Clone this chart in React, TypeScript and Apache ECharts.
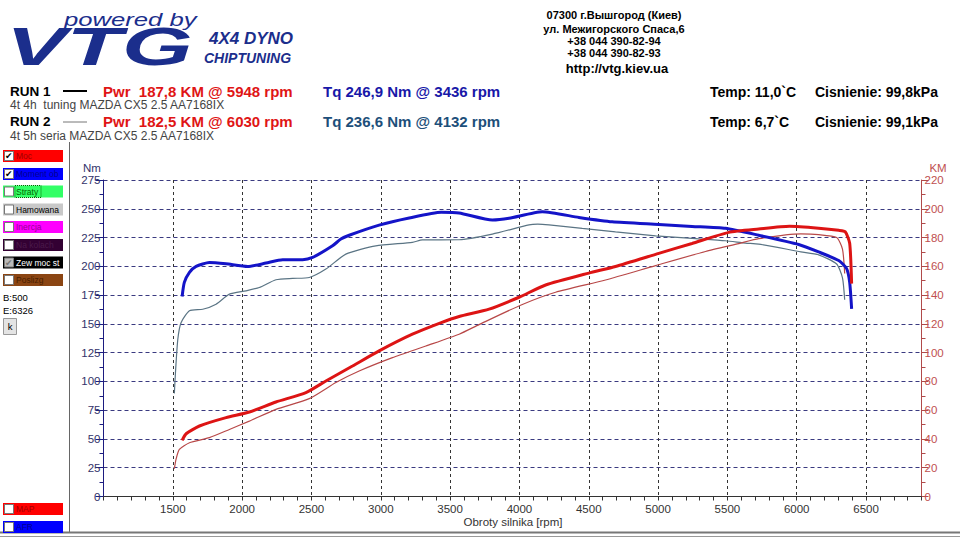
import React, { useEffect, useRef } from "react";
import * as echarts from "echarts";

// ---------- DATA ----------
const run1TorqueRpm = [1567, 1583, 1620, 1668, 1764, 1884, 2040, 2172, 2292, 2436, 2508, 2652, 2712, 2772, 2988, 3205, 3436, 3565, 3805, 3925, 4165, 4429, 4669, 5005, 5245, 5486, 5726, 6014, 6158, 6303, 6360, 6382, 6396];
const run1Torque = [173.8, 186, 194.7, 199.9, 203.4, 202.2, 199.9, 202.8, 205.7, 205.7, 207.7, 217.8, 223.7, 227, 235.8, 242, 246.9, 246.3, 240.2, 241.7, 247.4, 242.5, 238.7, 236.4, 234.7, 233, 227, 219, 212.5, 205, 198, 186, 163];

const run1PowerRpm = [1567, 1596, 1692, 1884, 2052, 2244, 2460, 2604, 2796, 2988, 3228, 3436, 3565, 3781, 3997, 4189, 4501, 4693, 5005, 5245, 5510, 5726, 5948, 6158, 6303, 6350, 6382, 6396];
const run1Power = [39, 43.6, 49, 54.8, 58.7, 65.7, 72.2, 80.3, 90.7, 101.2, 112.8, 120.9, 125.1, 130.2, 138.5, 147, 155.3, 159.9, 169, 175.9, 183.6, 185.9, 187.8, 186.5, 185, 184, 176, 148];

const run2TorqueRpm = [1511, 1519, 1536, 1560, 1620, 1716, 1812, 1908, 2028, 2124, 2244, 2364, 2484, 2604, 2748, 2964, 3228, 3300, 3565, 3805, 4069, 4132, 4213, 4453, 4693, 4982, 5245, 5486, 5630, 5726, 6030, 6158, 6288, 6330, 6346];
const run2Torque = [89.6, 107.6, 136.6, 151.2, 161.3, 162.7, 167.1, 175.8, 178.7, 181.6, 188.3, 189.5, 190.3, 197.6, 210.6, 217.8, 220.8, 223, 223.1, 228, 236, 236.6, 236, 233, 230, 226.5, 224.2, 222.2, 220.2, 219.3, 212.6, 210, 202, 190, 171];

const run2PowerRpm = [1511, 1523, 1547, 1620, 1764, 1908, 2052, 2244, 2484, 2676, 2844, 3084, 3325, 3565, 3709, 4021, 4261, 4621, 4982, 5342, 5582, 5726, 6030, 6158, 6288, 6330, 6346];
const run2Power = [19.3, 25.8, 32.7, 37.4, 40.9, 46.6, 52.4, 60.6, 68, 79.2, 87.2, 96.5, 104.6, 112.8, 119.5, 133.5, 142, 150.5, 160.5, 170.3, 175.8, 179.2, 182.5, 182, 180, 172, 155];

const xMin = 1000;
const xMax = 6900;
const nmMax = 275;
const kmMax = 220;

const addressLines = ["07300 г.Вышгород (Киев)", "ул. Межигорского Спаса,6", "+38 044 390-82-94", "+38 044 390-82-93"];
const siteUrl = "http://vtg.kiev.ua";

const runLabels = ["RUN 1", "RUN 2"];
const runDescriptions = ["4t 4h  tuning MAZDA CX5 2.5 AA7168IX", "4t 5h seria MAZDA CX5 2.5 AA7168IX"];
const runPowerTexts = ["Pwr  187,8 KM @ 5948 rpm", "Pwr  182,5 KM @ 6030 rpm"];
const runTorqueTexts = ["Tq 246,9 Nm @ 3436 rpm", "Tq 236,6 Nm @ 4132 rpm"];
const runTempTexts = ["Temp: 11,0`C", "Temp: 6,7`C"];
const runPressureTexts = ["Cisnienie: 99,8kPa", "Cisnienie: 99,1kPa"];

const panelLabels = ["Moc", "Moment obr", "Straty", "Hamowana", "Inercja", "Na kolach", "Zew moc str", "Poslizg"];
const panelChecked = [true, true, false, false, false, false, true, false];
const bottomPanelLabels = ["MAP", "AFR"];
const rangeTexts = ["B:500", "E:6326"];

// ---------- STYLES ----------
const FONT = '"Liberation Sans", Arial, sans-serif';
const panelBg = ["#ff0000", "#0000ff", "#33ff66", "#c8c8c8", "#ff00ff", "#330033", "#000000", "#8b4513"];
const panelFg = ["#a00000", "#000090", "#006600", "#000000", "#990099", "#4a1a4a", "#ffffff", "#4a2000"];
const bottomBg = ["#ff0000", "#0000ff"];
const bottomFg = ["#a00000", "#000090"];
const logoBlue = "#1b2e8c";

function zip(xs: number[], ys: number[]) {
  return xs.map((x, i) => [x, ys[i]]);
}

export default function App() {
  const ref = useRef<HTMLDivElement>(null);

  useEffect(() => {
    if (!ref.current) return;
    const chart = echarts.init(ref.current, null, { renderer: "svg" });

    const graphics: any[] = [];
    const txt = (text: string, x: number, y: number, o: any = {}) =>
      graphics.push({
        type: "text",
        x,
        y,
        scaleX: o.scaleX ?? 1,
        scaleY: o.scaleY ?? 1,
        z: 10,
        style: {
          text,
          fill: o.fill ?? "#000",
          fontSize: o.fontSize ?? 12,
          fontWeight: o.fontWeight ?? "normal",
          fontStyle: o.fontStyle ?? "normal",
          fontFamily: o.fontFamily ?? FONT,
          align: o.align ?? "left",
          verticalAlign: o.verticalAlign ?? "middle",
        },
      });

    // logo
    txt("powered by", 64, 20, { fill: logoBlue, fontSize: 19, fontStyle: "italic", scaleX: 1.35 });
    txt("VTG", 6, 46, { fill: logoBlue, fontSize: 54, fontWeight: "bold", fontStyle: "italic", scaleX: 1.68 });
    txt("4X4 DYNO", 209, 38, { fill: logoBlue, fontSize: 17, fontWeight: "bold", fontStyle: "italic" });
    txt("CHIPTUNING", 204, 58, { fill: logoBlue, fontSize: 14, fontWeight: "bold", fontStyle: "italic" });

    // address
    const addrY = [15, 29, 41, 53];
    addressLines.forEach((t, i) => txt(t, 614, addrY[i], { fontSize: 11, fontWeight: "bold", align: "center" }));
    txt(siteUrl, 617, 68, { fontSize: 13, fontWeight: "bold", align: "center" });

    // run rows
    const rowY = [91, 121];
    const descY = [105, 136];
    const tqColors = ["#1818a8", "#1d4f7a"];
    runLabels.forEach((t, i) => {
      txt(t, 10, rowY[i], { fontSize: 13.5, fontWeight: "bold" });
      txt(runDescriptions[i], 10, descY[i], { fontSize: 12, fill: "#444" });
      txt(runPowerTexts[i], 103, rowY[i], { fontSize: 15, fontWeight: "bold", fill: "#e01515" });
      txt(runTorqueTexts[i], 323, rowY[i], { fontSize: 15, fontWeight: "bold", fill: tqColors[i] });
      txt(runTempTexts[i], 710, rowY[i] + 1, { fontSize: 14, fontWeight: "bold" });
      txt(runPressureTexts[i], 815, rowY[i] + 1, { fontSize: 14, fontWeight: "bold" });
    });
    graphics.push({ type: "line", shape: { x1: 63, y1: 91, x2: 87, y2: 91 }, style: { stroke: "#000", lineWidth: 2 } });
    graphics.push({ type: "line", shape: { x1: 63, y1: 122, x2: 87, y2: 122 }, style: { stroke: "#777", lineWidth: 1 } });

    // frame
    graphics.push({ type: "line", shape: { x1: 69.5, y1: 142, x2: 69.5, y2: 532 }, style: { stroke: "#666", lineWidth: 1 } });
    graphics.push({ type: "line", shape: { x1: 0, y1: 532.5, x2: 960, y2: 532.5 }, style: { stroke: "#777", lineWidth: 2 } });
    graphics.push({ type: "line", shape: { x1: 0, y1: 536.5, x2: 960, y2: 536.5 }, style: { stroke: "#999", lineWidth: 1 } });

    // left panel buttons
    const btn = (label: string, cy: number, bg: string, fg: string, checked: boolean, grey = false) => {
      graphics.push({ type: "rect", shape: { x: 3, y: cy - 6, width: 60, height: 12 }, style: { fill: bg } });
      graphics.push({ type: "rect", shape: { x: 4.5, y: cy - 4.5, width: 9, height: 9 }, style: { fill: grey ? "#bbb" : "#fff", stroke: "#777", lineWidth: 1 } });
      if (checked) txt("✔", 5, cy, { fontSize: 9, fontFamily: '"DejaVu Sans", sans-serif', fill: grey ? "#777" : "#000" });
      graphics.push({
        type: "text",
        x: 16,
        y: cy,
        z: 10,
        style: {
          text: label,
          fill: fg,
          fontSize: 8.5,
          fontFamily: FONT,
          verticalAlign: "middle",
          width: 46,
          overflow: "truncate",
          ellipsis: "",
        },
      });
    };
    const btnY = [156, 174, 191.5, 209.5, 227, 245, 262.5, 280];
    panelLabels.forEach((l, i) => btn(l, btnY[i], panelBg[i], panelFg[i], panelChecked[i], i === 6));
    graphics.push({ type: "rect", shape: { x: 15, y: 185.5, width: 26, height: 12 }, style: { fill: "none", stroke: "#006600", lineWidth: 1, lineDash: [1, 1] } });
    const bottomY = [509, 527];
    bottomPanelLabels.forEach((l, i) => btn(l, bottomY[i], bottomBg[i], bottomFg[i], false));
    txt(rangeTexts[0], 3, 297, { fontSize: 9.5 });
    txt(rangeTexts[1], 3, 310, { fontSize: 9.5 });
    graphics.push({ type: "rect", shape: { x: 3.5, y: 318.5, width: 13, height: 16 }, style: { fill: "#e4e4e4", stroke: "#999", lineWidth: 1 } });
    txt("k", 10, 326.5, { fontSize: 9.5, align: "center" });

    // axis names
    txt("Nm", 92, 168, { fontSize: 11.5, fill: "#33336a", align: "center" });
    txt("KM", 938, 168, { fontSize: 11.5, fill: "#c05050", align: "center" });
    txt("Obroty silnika [rpm]", 513, 522, { fontSize: 11.5, fill: "#333", align: "center" });

    chart.setOption({
      animation: false,
      backgroundColor: "#fff",
      grid: { left: 103.5, right: 38.5, top: 180, bottom: 43.5, containLabel: false },
      xAxis: [
        {
          type: "value",
          min: xMin,
          max: xMax,
          interval: 500,
          position: "bottom",
          axisLine: { show: true, onZero: false, lineStyle: { color: "#333", width: 1 } },
          axisTick: { show: false },
          axisLabel: {
            showMinLabel: false,
            showMaxLabel: false,
            color: "#333",
            fontSize: 11.5,
            fontFamily: FONT,
            margin: 6,
            formatter: (v: number) => String(v),
          },
          splitLine: { show: true, lineStyle: { color: "#333", type: [3, 3], width: 1 } },
        },
        {
          type: "value",
          min: xMin,
          max: xMax,
          interval: 100,
          position: "bottom",
          axisLine: { show: false, onZero: false },
          axisTick: { show: true, length: 4, lineStyle: { color: "#333" } },
          axisLabel: { show: false },
          splitLine: { show: false },
        },
      ],
      yAxis: [
        {
          type: "value",
          min: 0,
          max: nmMax,
          interval: 25,
          position: "left",
          axisLine: { show: true, lineStyle: { color: "#1c1c80", width: 1 } },
          axisTick: { show: true, length: 8, lineStyle: { color: "#1c1c80" } },
          minorTick: { show: true, splitNumber: 2, length: 4, lineStyle: { color: "#1c1c80" } },
          axisLabel: { color: "#33336a", fontSize: 11.5, fontFamily: FONT, margin: 3 },
          splitLine: { show: true, lineStyle: { color: "#3a3a80", type: [4, 3], width: 1 } },
        },
        {
          type: "value",
          min: 0,
          max: kmMax,
          interval: 20,
          position: "right",
          axisLine: { show: true, lineStyle: { color: "#b04a4a", width: 1 } },
          axisTick: { show: true, length: 7, lineStyle: { color: "#b04a4a" } },
          minorTick: { show: true, splitNumber: 2, length: 4, lineStyle: { color: "#b04a4a" } },
          axisLabel: { color: "#c05050", fontSize: 11.5, fontFamily: FONT, margin: 3 },
          splitLine: { show: false },
        },
      ],
      series: [
        {
          name: "RUN 2 Tq",
          type: "line",
          xAxisIndex: 0,
          yAxisIndex: 0,
          data: zip(run2TorqueRpm, run2Torque),
          showSymbol: false,
          smooth: 0.2,
          lineStyle: { color: "#5a7484", width: 1.2 },
          z: 3,
        },
        {
          name: "RUN 2 Pwr",
          type: "line",
          xAxisIndex: 0,
          yAxisIndex: 1,
          data: zip(run2PowerRpm, run2Power),
          showSymbol: false,
          smooth: 0.2,
          lineStyle: { color: "#b84848", width: 1.2 },
          z: 3,
        },
        {
          name: "RUN 1 Tq",
          type: "line",
          xAxisIndex: 0,
          yAxisIndex: 0,
          data: zip(run1TorqueRpm, run1Torque),
          showSymbol: false,
          smooth: 0.2,
          lineStyle: { color: "#1414c8", width: 3 },
          z: 4,
        },
        {
          name: "RUN 1 Pwr",
          type: "line",
          xAxisIndex: 0,
          yAxisIndex: 1,
          data: zip(run1PowerRpm, run1Power),
          showSymbol: false,
          smooth: 0.2,
          lineStyle: { color: "#dd1414", width: 3 },
          z: 4,
        },
      ],
      graphic: graphics,
    });

    return () => chart.dispose();
  }, []);

  return <div ref={ref} style={{ position: "fixed", left: 0, top: 0, width: 960, height: 540 }} />;
}
